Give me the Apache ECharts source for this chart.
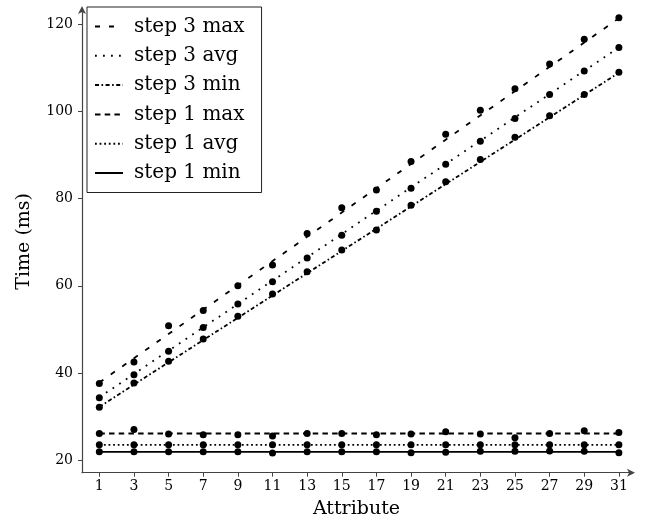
<!DOCTYPE html>
<html>
<head>
<meta charset="utf-8">
<script src="https://cdn.jsdelivr.net/npm/echarts@6/dist/echarts.min.js"></script>
<style>
html,body{margin:0;padding:0;background:#fff;}
#chart{width:646px;height:530px;}
</style>
</head>
<body>
<div id="chart"></div>
<script>
// measured points
const attributes = [1,3,5,7,9,11,13,15,17,19,21,23,25,27,29,31];
const step3Max = [37.6,42.5,50.8,54.3,60.0,64.8,72.0,77.9,82.0,88.5,94.8,100.3,105.2,110.9,116.6,121.5];
const step3Avg = [34.3,39.6,45.0,50.4,55.8,60.9,66.4,71.6,77.1,82.4,87.9,93.2,98.4,103.9,109.3,114.7];
const step3Min = [32.1,37.7,42.7,47.8,53.0,58.1,63.2,68.2,72.8,78.5,83.9,89.0,94.1,99.0,103.9,109.0];
const step1Max = [26.1,27.0,26.0,25.8,25.8,25.5,26.1,26.1,25.8,26.0,26.5,26.0,25.1,26.1,26.7,26.3];
const step1Avg = [23.5,23.5,23.5,23.5,23.5,23.5,23.5,23.5,23.5,23.5,23.5,23.5,23.5,23.5,23.5,23.5];
const step1Min = [21.9,21.9,21.9,21.9,21.9,21.6,21.9,21.9,21.9,21.7,21.8,22.0,22.0,22.1,22.0,21.7];
// trend lines, read at both ends
const trendX = [1, 31];
const step3MaxTrend = [37.8, 121.4];
const step3AvgTrend = [34.4, 114.7];
const step3MinTrend = [32.2, 108.9];
const step1MaxTrend = [26.1, 26.1];
const step1AvgTrend = [23.5, 23.5];
const step1MinTrend = [21.9, 21.9];
const yTicks = [20,40,60,80,100,120];
const xTicks = attributes;

const seriesDefs = [
  {name:'step 3 max', values: step3Max, trend: step3MaxTrend, dash:[5,9]},
  {name:'step 3 avg', values: step3Avg, trend: step3AvgTrend, dash:[1.8,6.2]},
  {name:'step 3 min', values: step3Min, trend: step3MinTrend, dash:[4,2.5,1.6,2.5]},
  {name:'step 1 max', values: step1Max, trend: step1MaxTrend, dash:[5.5,4.2]},
  {name:'step 1 avg', values: step1Avg, trend: step1AvgTrend, dash:[1.8,2.8]},
  {name:'step 1 min', values: step1Min, trend: step1MinTrend, dash:'solid'}
];

const FONT = '"DejaVu Serif", serif';
const lineSeries = seriesDefs.map(s => ({
  name: s.name,
  type: 'line',
  data: trendX.map((x, i) => [x, s.trend[i]]),
  symbol: 'none',
  itemStyle: {color: '#000'},
  lineStyle: {color: '#000', width: 1.8, type: s.dash, cap: 'butt'},
  emphasis: {disabled: true},
  z: 2
}));
const dotSeries = seriesDefs.map(s => ({
  name: s.name + ' points',
  type: 'scatter',
  data: attributes.map((a, i) => [a, s.values[i]]),
  symbol: 'circle', symbolSize: 7,
  itemStyle: {color: '#000', opacity: 1},
  emphasis: {disabled: true},
  z: 3
}));

const chart = echarts.init(document.getElementById('chart'), null, {renderer:'canvas'});
chart.setOption({
  animation: false,
  backgroundColor: '#fff',
  grid: {left: 82, right: 15, top: 10, bottom: 57.3, containLabel: false},
  xAxis: {
    type: 'value', min: 0, max: 31.7,
    name: 'Attribute', nameLocation: 'middle', nameGap: 27,
    nameTextStyle: {fontFamily: FONT, fontSize: 19, color: '#000'},
    axisLine: {show: true, lineStyle: {color: '#444', width: 1.2}, symbol: ['none','arrow'], symbolSize: [6, 8], symbolOffset: [0, 4]},
    axisTick: {show: true, length: 4, customValues: xTicks, lineStyle: {color: '#444', width: 1}},
    axisLabel: {customValues: xTicks, fontFamily: FONT, fontSize: 14, color: '#000', margin: 7},
    splitLine: {show: false}
  },
  yAxis: {
    type: 'value', min: 17.1, max: 123.3,
    name: 'Time (ms)', nameLocation: 'middle', nameGap: 48,
    nameTextStyle: {fontFamily: FONT, fontSize: 19, color: '#000'},
    axisLine: {show: true, lineStyle: {color: '#444', width: 1.2}, symbol: ['none','arrow'], symbolSize: [6, 8], symbolOffset: [0, 4]},
    axisTick: {show: true, length: 4, customValues: yTicks, lineStyle: {color: '#444', width: 1}},
    axisLabel: {customValues: yTicks, fontFamily: FONT, fontSize: 14, color: '#000', margin: 9},
    splitLine: {show: false}
  },
  legend: {
    orient: 'vertical', left: 87, top: 7,
    padding: [9.5, 17, 9.5, 7],
    itemWidth: 28, itemHeight: 14, itemGap: 9.3,
    borderColor: '#222', borderWidth: 1, backgroundColor: '#fff',
    itemStyle: {opacity: 0},
    textStyle: {fontFamily: FONT, fontSize: 20, lineHeight: 20, color: '#000', padding: [0,0,0,6]},
    data: seriesDefs.map(s => s.name)
  },
  series: lineSeries.concat(dotSeries)
});
</script>
</body>
</html>
